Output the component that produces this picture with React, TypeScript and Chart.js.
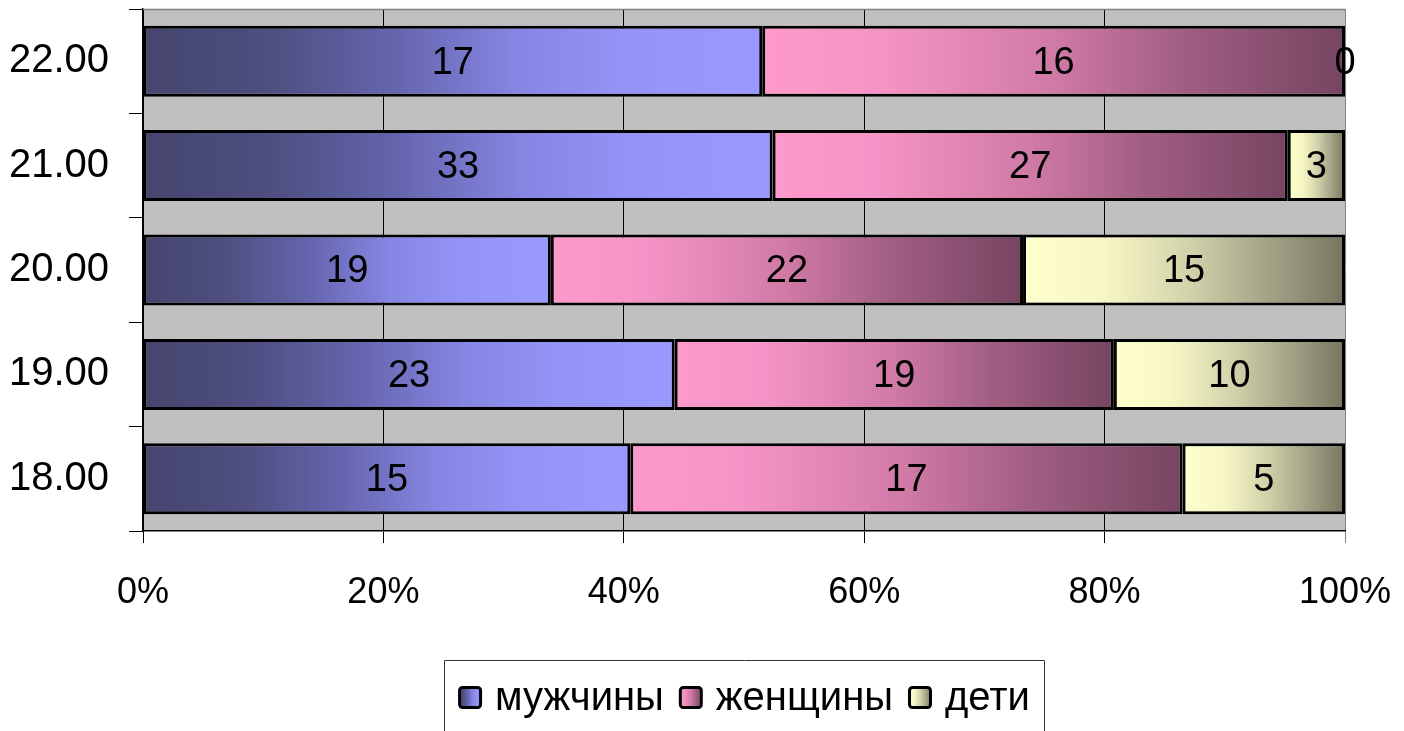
import React, { useEffect, useRef } from "react";
import { Chart, registerables } from "chart.js";

Chart.register(...registerables);

// Time slots, top to bottom
const categories = ["22.00", "21.00", "20.00", "19.00", "18.00"];
// Head counts per group in each time slot
const men = [17, 33, 19, 23, 15];
const women = [16, 27, 22, 19, 17];
const children = [0, 3, 15, 10, 5];
const seriesNames = ["мужчины", "женщины", "дети"];
// Percent axis ticks
const xTicks = [0, 20, 40, 60, 80, 100];

const FONT = "'Liberation Sans', Arial, sans-serif";

// Horizontal gradient stops for each group (left -> right)
const gradientStops: [number, string][][] = [
  [
    [0, "#45456E"],
    [0.2, "#4E4E80"],
    [0.4, "#6464AC"],
    [0.6, "#8585E2"],
    [0.78, "#9494F7"],
    [1, "#9999FF"],
  ],
  [
    [0, "#FF99CC"],
    [0.2, "#F594C6"],
    [0.5, "#D07AA6"],
    [0.72, "#A15E83"],
    [1, "#764561"],
  ],
  [
    [0, "#FFFFCC"],
    [0.25, "#F7F7C5"],
    [0.5, "#D5D5AD"],
    [0.75, "#A5A589"],
    [1, "#767660"],
  ],
];

const counts = [men, women, children];
const totals = categories.map((_, i) => men[i] + women[i] + children[i]);
const percents = counts.map((arr) => arr.map((v, i) => (v / totals[i]) * 100));

function makeGradient(ctx: CanvasRenderingContext2D, x0: number, x1: number, stops: [number, string][]) {
  const g = ctx.createLinearGradient(x0, 0, x1, 0);
  stops.forEach(([o, c]) => g.addColorStop(o, c));
  return g;
}

function segmentFill(context: any) {
  const d = context.datasetIndex;
  const stops = gradientStops[d];
  const chart = context.chart;
  if (context.type !== "data" || !chart.chartArea || !chart.scales.x) return stops[stops.length - 1][1];
  const i = context.dataIndex;
  let start = 0;
  for (let k = 0; k < d; k++) start += percents[k][i];
  const end = start + percents[d][i];
  const xs = chart.scales.x;
  const x0 = xs.getPixelForValue(start);
  const x1 = xs.getPixelForValue(end);
  if (x1 - x0 < 1) return stops[stops.length - 1][1];
  return makeGradient(chart.ctx, x0, x1, stops);
}

// Grey plot background and its top border
const plotBackground = {
  id: "plotBackground",
  beforeDraw(chart: any) {
    const { ctx, chartArea: a } = chart;
    ctx.save();
    ctx.fillStyle = "#C0C0C0";
    ctx.fillRect(a.left, a.top, a.right - a.left, a.bottom - a.top);
    ctx.restore();
  },
  beforeDatasetsDraw(chart: any) {
    const { ctx, chartArea: a } = chart;
    ctx.save();
    ctx.strokeStyle = "#808080";
    ctx.lineWidth = 1.5;
    ctx.beginPath();
    ctx.moveTo(a.left, a.top + 0.5);
    ctx.lineTo(a.right, a.top + 0.5);
    ctx.stroke();
    ctx.restore();
  },
};

// Count labels centred in each segment
const segmentLabels = {
  id: "segmentLabels",
  afterDatasetsDraw(chart: any) {
    const { ctx } = chart;
    ctx.save();
    ctx.font = `38px ${FONT}`;
    ctx.fillStyle = "#000";
    ctx.textAlign = "center";
    ctx.textBaseline = "middle";
    chart.data.datasets.forEach((ds: any, d: number) => {
      const meta = chart.getDatasetMeta(d);
      meta.data.forEach((el: any, i: number) => {
        const cx = (el.x + el.base) / 2;
        ctx.fillText(String(ds.counts[i]), cx, el.y + 2);
      });
    });
    ctx.restore();
  },
};

// Boxed legend under the axis
const boxedLegend = {
  id: "boxedLegend",
  afterDraw(chart: any) {
    const { ctx, chartArea: a } = chart;
    const boxW = 24;
    const boxH = 23;
    const boxGap = 13;
    const itemGap = 15;
    const pad = 14;
    ctx.save();
    ctx.font = `40px ${FONT}`;
    const labels: string[] = chart.data.datasets.map((ds: any) => ds.label);
    const widths = labels.map((t) => ctx.measureText(t).width);
    const total = widths.reduce((s, w) => s + boxW + boxGap + w, 0) + itemGap * (labels.length - 1);
    const center = (a.left + a.right) / 2;
    let x = center - total / 2;
    const frameLeft = Math.round(x - pad) + 0.5;
    const frameRight = Math.round(x + total + pad) + 0.5;
    const frameTop = 660.5;
    ctx.strokeStyle = "#333";
    ctx.lineWidth = 1;
    ctx.beginPath();
    ctx.moveTo(frameLeft, chart.height + 2);
    ctx.lineTo(frameLeft, frameTop);
    ctx.lineTo(frameRight, frameTop);
    ctx.lineTo(frameRight, chart.height + 2);
    ctx.stroke();

    const boxTop = 686;
    const baseline = 710;
    labels.forEach((t, k) => {
      const g = makeGradient(ctx, x, x + boxW, gradientStops[k]);
      ctx.beginPath();
      if ((ctx as any).roundRect) (ctx as any).roundRect(x + 1.5, boxTop + 1.5, boxW - 3, boxH - 3, 3);
      else ctx.rect(x + 1.5, boxTop + 1.5, boxW - 3, boxH - 3);
      ctx.fillStyle = g;
      ctx.fill();
      ctx.lineWidth = 3;
      ctx.strokeStyle = "#000";
      ctx.stroke();
      ctx.fillStyle = "#000";
      ctx.textAlign = "left";
      ctx.textBaseline = "alphabetic";
      ctx.fillText(t, x + boxW + boxGap, baseline);
      x += boxW + boxGap + widths[k] + itemGap;
    });
    ctx.restore();
  },
};

export default function App() {
  const canvasRef = useRef<HTMLCanvasElement | null>(null);

  useEffect(() => {
    const canvas = canvasRef.current;
    if (!canvas) return;
    const chart = new Chart(canvas, {
      type: "bar",
      data: {
        labels: categories,
        datasets: seriesNames.map((name, d) => ({
          label: name,
          data: percents[d],
          counts: counts[d],
          backgroundColor: segmentFill,
          borderColor: "#000",
          borderWidth: 3,
          borderSkipped: false,
          barPercentage: 0.68,
          categoryPercentage: 1,
        })) as any,
      },
      options: {
        indexAxis: "y",
        responsive: false,
        animation: false,
        layout: { padding: { top: 9, right: 59, left: 0, bottom: 0 } },
        plugins: {
          legend: { display: false },
          tooltip: { enabled: false },
        },
        scales: {
          x: {
            stacked: true,
            min: 0,
            max: 100,
            afterBuildTicks: (scale: any) => {
              scale.ticks = xTicks.map((v) => ({ value: v }));
            },
            afterFit: (scale: any) => {
              scale.height = 200;
              scale.paddingLeft = 0;
              scale.paddingRight = 0;
              scale.paddingTop = 0;
              scale.paddingBottom = 0;
            },
            grid: {
              color: (c: any) => (c.tick && c.tick.value === 100 ? "#808080" : "#000"),
              lineWidth: 1,
              drawTicks: true,
              tickLength: 12,
            },
            border: { color: "#000", width: 1.5 },
            ticks: {
              callback: (v: any) => `${v}%`,
              font: { family: FONT, size: 36 },
              color: "#000",
              padding: 28,
              maxRotation: 0,
            },
          },
          y: {
            stacked: true,
            afterFit: (scale: any) => {
              scale.width = 143;
              scale.paddingLeft = 0;
              scale.paddingRight = 0;
              scale.paddingTop = 0;
              scale.paddingBottom = 0;
            },
            grid: {
              offset: true,
              drawOnChartArea: false,
              drawTicks: true,
              tickLength: 14,
              color: "#000",
            },
            border: { color: "#000", width: 1.5 },
            ticks: {
              font: { family: FONT, size: 40 },
              color: "#000",
              padding: 20,
            },
          },
        },
      },
      plugins: [plotBackground, segmentLabels, boxedLegend],
    });
    return () => chart.destroy();
  }, []);

  return (
    <div style={{ position: "absolute", left: 0, top: 0, width: 1404, height: 731, background: "#fff" }}>
      <canvas ref={canvasRef} width={1404} height={731} style={{ width: 1404, height: 731, display: "block" }} />
    </div>
  );
}
